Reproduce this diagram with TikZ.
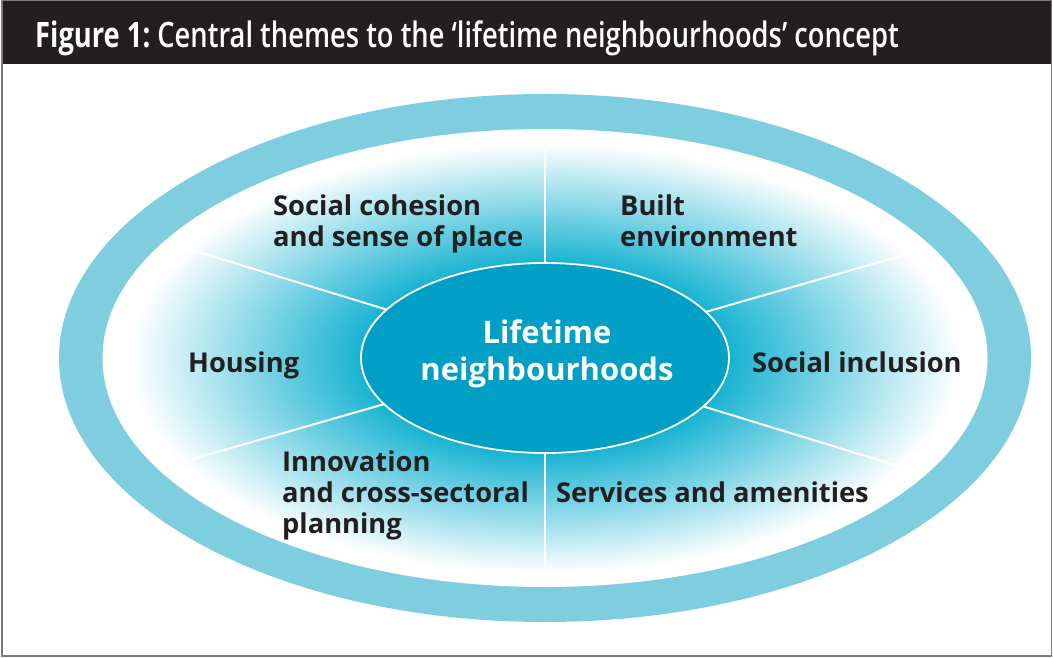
\documentclass[tikz,border=0pt]{standalone}
\usepackage{fontspec}
\setmainfont{Open Sans}
\newfontfamily\titlebold[FakeStretch=0.78]{Open Sans}
\newfontfamily\titlelight[FakeStretch=0.78]{Open Sans Light}
\usetikzlibrary{shapes.geometric}
\definecolor{barblack}{HTML}{231F20}
\definecolor{framegray}{HTML}{7A7A7A}
\definecolor{ringblue}{HTML}{7FCEE0}
\definecolor{centerblue}{HTML}{009FC5}
\definecolor{glowcyan}{HTML}{00ABCD}
\definecolor{textdark}{HTML}{231F20}
\pgfdeclareradialshading{glow}{\pgfpoint{0bp}{0bp}}{color(0bp)=(glowcyan); color(9bp)=(glowcyan); color(23.5bp)=(white); color(25bp)=(white); color(50bp)=(white)}
\tikzset{
  oval/.style={ellipse, inner sep=0pt, outer sep=0pt},
  divider/.style={draw=white, line width=2pt},
  theme/.style={anchor=base west, inner sep=0pt, text=textdark, font=\fontsize{27.3}{31}\selectfont\bfseries},
}
\begin{document}
\begin{tikzpicture}[x=1pt,y=-1pt]
\useasboundingbox (0,0) rectangle (1053,658);
\fill[barblack] (1.75,0.5) rectangle (1051.25,64);
\draw[framegray, line width=1.5pt] (1.75,0.75) rectangle (1051.25,656);
\node[anchor=base west, inner sep=0pt, text=white, font=\fontsize{35}{40}\selectfont] (title) at (35,48)
  {\titlebold\bfseries Figure 1:\titlelight\ Central themes to the ‘lifetime neighbourhoods’ concept};
% rings
\node[oval, fill=ringblue, minimum width=972pt, minimum height=528pt] (outer) at (545,358) {};
\node[oval, shading=glow, minimum width=885pt, minimum height=458pt] (inner) at (545,358) {};
\node[oval, fill=centerblue, minimum width=368pt, minimum height=190pt] (center) at (545,358) {};
% dividers
\foreach \a in {90,16.7,343.3,270,196.7,163.3}
  \draw[divider] (center.\a) -- (inner.\a);
\draw[white, line width=1.8pt] (center.center) ellipse [x radius=184, y radius=95];
% labels
\node[theme] (cohesion) at (273,215) {\begin{tabular}[t]{@{}l@{}}Social cohesion\\and sense of place\end{tabular}};
\node[theme] (built) at (620,215) {\begin{tabular}[t]{@{}l@{}}Built\\environment\end{tabular}};
\node[theme] (housing) at (188,372) {Housing};
\node[theme] (inclusion) at (752,372) {Social inclusion};
\node[theme] (innovation) at (282,471) {\begin{tabular}[t]{@{}l@{}}Innovation\\and cross-sectoral\\planning\end{tabular}};
\node[theme] (services) at (556,502) {Services and amenities};
\node[anchor=base, inner sep=0pt, text=white, font=\fontsize{31}{37}\selectfont\bfseries] (centertext) at (547,343)
  {\begin{tabular}[t]{@{}c@{}}Lifetime\\neighbourhoods\end{tabular}};
\end{tikzpicture}
\end{document}
